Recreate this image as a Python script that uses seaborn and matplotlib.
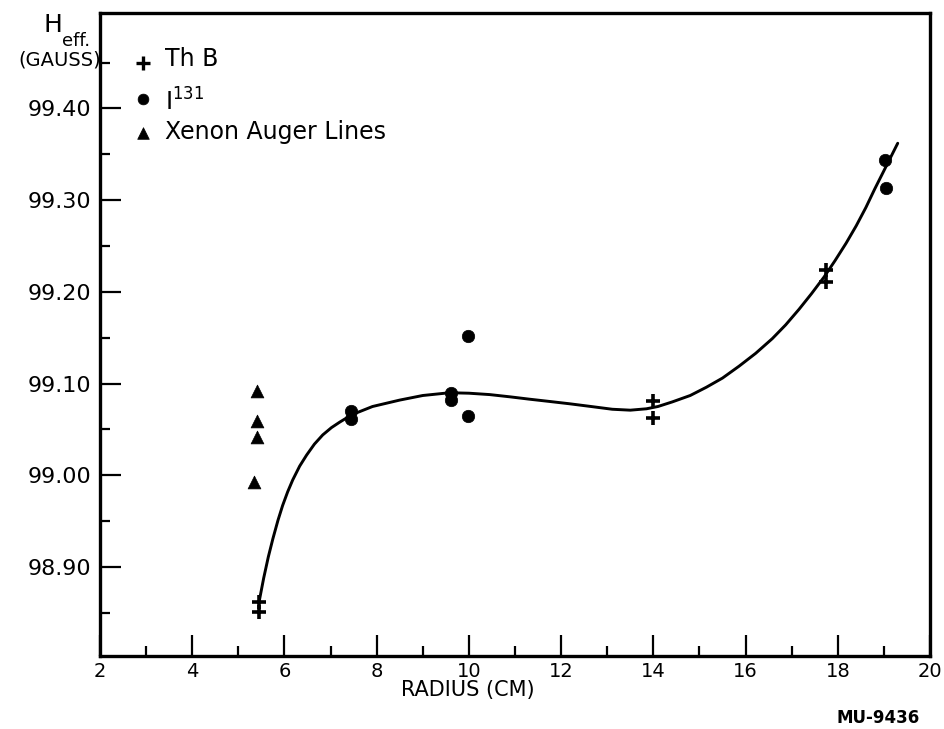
import matplotlib
matplotlib.use("Agg")
import matplotlib.pyplot as plt
import seaborn as sns

# Th B measurements: radius (cm) and effective field (gauss)
thb_radius = [5.45, 5.45, 14.0, 14.0, 17.75, 17.75]
thb_field = [98.862, 98.851, 99.081, 99.062, 99.224, 99.211]

# I-131 measurements
i131_radius = [7.45, 7.45, 9.62, 9.62, 9.97, 9.97, 19.03, 19.05]
i131_field = [99.070, 99.061, 99.090, 99.082, 99.152, 99.065, 99.344, 99.313]

# Xenon Auger lines
xenon_radius = [5.40, 5.40, 5.40, 5.33]
xenon_field = [99.092, 99.059, 99.042, 98.993]

# Smooth curve drawn through the measurements
curve_radius = [5.45, 5.55, 5.65, 5.75, 5.86, 5.96, 6.07, 6.18, 6.33, 6.48,
                6.65, 6.83, 7.02, 7.20, 7.46, 7.91, 8.50, 9.00, 9.58, 10.00,
                10.45, 10.90, 11.31, 11.75, 12.18, 12.65, 13.11, 13.50, 13.85,
                14.10, 14.41, 14.80, 15.15, 15.50, 15.86, 16.22, 16.58, 16.87,
                17.16, 17.43, 17.70, 17.94, 18.18, 18.40, 18.61, 18.80, 18.96,
                19.13, 19.30]
curve_field = [98.862, 98.888, 98.911, 98.931, 98.951, 98.967, 98.982, 98.995,
               99.010, 99.022, 99.034, 99.044, 99.052, 99.058, 99.066, 99.075,
               99.082, 99.087, 99.090, 99.0895, 99.088, 99.0855, 99.083,
               99.0805, 99.078, 99.075, 99.072, 99.071, 99.0725, 99.075,
               99.080, 99.087, 99.096, 99.106, 99.119, 99.133, 99.149, 99.164,
               99.181, 99.198, 99.216, 99.234, 99.253, 99.272, 99.292, 99.312,
               99.328, 99.345, 99.362]

x_ticks = [2, 4, 6, 8, 10, 12, 14, 16, 18, 20]
x_minor = [3, 5, 7, 9, 11, 13, 15, 17, 19]
y_ticks = [98.90, 99.00, 99.10, 99.20, 99.30, 99.40]
y_tick_labels = ["98.90", "99.00", "99.10", "99.20", "99.30", "99.40"]
y_minor = [98.85, 98.95, 99.05, 99.15, 99.25, 99.35, 99.45]

series_labels = ["Th B", r"I$^{131}$", "Xenon Auger Lines"]

sns.set_style("white")
plt.rcParams["font.family"] = ["DejaVu Sans"]
plt.rcParams["mathtext.default"] = "regular"

W, H = 945, 729
fig = plt.figure(figsize=(W / 100, H / 100), dpi=100)
ax = fig.add_axes([100 / W, 73 / H, 830 / W, 643 / H])

ink = "black"

sns.lineplot(x=curve_radius, y=curve_field, sort=False, estimator=None,
             color=ink, linewidth=2.1, ax=ax)
sns.scatterplot(x=thb_radius, y=thb_field, marker="+", s=90, color=ink,
                linewidth=2.6, ax=ax, zorder=3)
sns.scatterplot(x=i131_radius, y=i131_field, marker="o", s=80, color=ink,
                edgecolor=ink, linewidth=0.5, ax=ax, zorder=3)
sns.scatterplot(x=xenon_radius, y=xenon_field, marker="^", s=85, color=ink,
                edgecolor=ink, linewidth=0.5, ax=ax, zorder=3)

ax.set_xlim(2, 20)
ax.set_ylim(98.803, 99.504)
ax.set_xticks(x_ticks)
ax.set_xticklabels([str(v) for v in x_ticks])
ax.set_xticks(x_minor, minor=True)
ax.set_yticks(y_ticks)
ax.set_yticklabels(y_tick_labels)
ax.set_yticks(y_minor, minor=True)

ax.tick_params(axis="both", which="both", bottom=True, left=True,
               top=False, right=False)
ax.tick_params(axis="both", which="major", direction="in", length=15,
               width=1.6, colors=ink)
ax.tick_params(axis="both", which="minor", direction="in", length=7.5,
               width=1.6, colors=ink)
ax.tick_params(axis="y", which="major", pad=6, labelsize=16)
ax.tick_params(axis="x", which="major", pad=4, labelsize=14)

for side in ["left", "bottom", "top", "right"]:
    ax.spines[side].set_visible(True)
    ax.spines[side].set_color(ink)
    ax.spines[side].set_linewidth(2.4)

ax.set_xlabel("RADIUS (CM)", fontsize=15, color=ink)
ax.xaxis.set_label_coords(0.443, -0.038)
ax.set_ylabel("")

# Legend entries
leg_marker_x = 0.052
leg_text_x = 0.078
leg_rows = [0.922, 0.866, 0.814]
leg_text_rows = [0.928, 0.862, 0.815]
leg_markers = ["+", "o", "^"]
leg_sizes = [90, 60, 70]
for m, s, yr, yt, lab in zip(leg_markers, leg_sizes, leg_rows, leg_text_rows,
                             series_labels):
    lw = 2.4 if m == "+" else 0.5
    ax.scatter([leg_marker_x], [yr], marker=m, s=s, color=ink,
               linewidths=lw, transform=ax.transAxes, clip_on=False)
    ax.text(leg_text_x, yt, lab, transform=ax.transAxes, fontsize=17,
            color=ink, ha="left", va="center")


# Axis title at the top left
def fx(px):
    return px / W


def fy(py):
    return 1 - py / H


fig.text(fx(53), fy(32), "H", fontsize=18, ha="center", va="baseline", color=ink)
fig.text(fx(62), fy(46), "eff.", fontsize=13, ha="left", va="baseline", color=ink)
fig.text(fx(101), fy(60), "(GAUSS)", fontsize=14, ha="right", va="center", color=ink)

fig.text(fx(920), fy(718), "MU-9436", fontsize=12, fontweight="bold",
         ha="right", va="center", color=ink)

fig.savefig("out.png", dpi=100, facecolor="white")
